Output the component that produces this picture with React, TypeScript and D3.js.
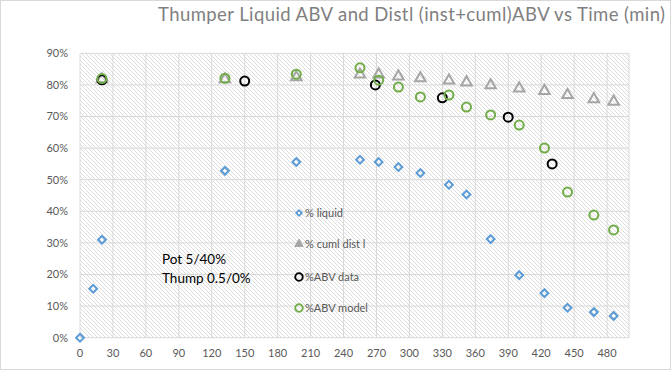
import { scaleLinear, range, symbol, symbolSquare, symbolTriangle } from 'd3';

const title = 'Thumper Liquid ABV and Distl (inst+cuml)ABV vs Time (min)';

const timeLiquid = [0, 12, 20, 132, 197, 255, 272, 290, 310, 336, 352, 374, 400, 423, 444, 468, 486];
const pctLiquid = [0, 15.5, 31, 52.8, 55.6, 56.3, 55.6, 54.0, 52.1, 48.4, 45.3, 31.2, 19.8, 14.1, 9.5, 8.1, 6.9];

const timeCuml = [20, 132, 197, 255, 272, 290, 310, 336, 352, 374, 400, 423, 444, 468, 486];
const pctCuml = [81.8, 81.8, 82.4, 83.3, 83.3, 82.7, 82.1, 81.4, 80.8, 79.9, 78.9, 78.1, 76.8, 75.5, 74.7];

const timeData = [20, 150, 269, 330, 390, 430];
const pctData = [81.6, 81.2, 80.0, 75.9, 69.8, 55.0];

const timeModel = [20, 132, 197, 255, 272, 290, 310, 336, 352, 374, 400, 423, 444, 468, 486];
const pctModel = [82.0, 82.1, 83.4, 85.4, 81.5, 79.3, 76.2, 76.8, 73.0, 70.5, 67.3, 60.0, 46.1, 38.8, 34.1];

const xTicks = range(0, 481, 30);
const yTicks = range(0, 91, 10);

const legendItems = ['% liquid', '% cuml dist l', '%ABV data', '%ABV model'];
const note = ['Pot 5/40%', 'Thump 0.5/0%'];

const W = 672;
const H = 371;
const font = 'Lato, "Open Sans", sans-serif';

export default function App() {
  const x = scaleLinear().domain([0, 500]).range([80, 629]);
  const y = scaleLinear().domain([0, 90]).range([337.7, 53.3]);
  // square rotated 45deg gives Excel's diamond marker
  const diamond = symbol().type(symbolSquare).size(30)() ?? '';
  const diamondSmall = symbol().type(symbolSquare).size(16)() ?? '';
  const tri = symbol().type(symbolTriangle).size(48)() ?? '';
  const triSmall = symbol().type(symbolTriangle).size(30)() ?? '';
  const blue = '#5b9bd5';
  const grey = '#a5a5a5';
  const green = '#70ad47';

  const legendY = [213, 244, 277, 308];

  return (
    <div style={{ position: 'absolute', left: 0, top: 0 }}>
      <svg width={W} height={H} style={{ display: 'block', fontFamily: font }}>
        <defs>
          <pattern id="hatch" width={4} height={4} patternUnits="userSpaceOnUse">
            <path d="M-1,-1 L5,5 M-1,3 L1,5 M3,-1 L5,1" stroke="#d4d4d4" strokeWidth={0.8} />
          </pattern>
        </defs>
        <rect x={0.5} y={0.5} width={W - 2} height={H - 2} fill="#fff" stroke="#d9d9d9" />
        <text x={158} y={21} fill="#7f7f7f" style={{ fontSize: 18.5 }} textLength={507}>
          {title}
        </text>

        <rect x={x(0)} y={y(90)} width={x(500) - x(0)} height={y(0) - y(90)} fill="url(#hatch)" />
        {yTicks.map((t) => (
          <g key={t}>
            <line x1={x(0)} x2={x(500)} y1={y(t)} y2={y(t)} stroke="#d9d9d9" strokeWidth={1} />
            <text x={68} y={y(t)} dy="0.35em" textAnchor="end" fill="#595959" style={{ fontSize: 11 }}>
              {t}%
            </text>
          </g>
        ))}
        {[...xTicks, 500].map((t) => (
          <line key={t} x1={x(t)} x2={x(t)} y1={y(0)} y2={y(90)} stroke="#d9d9d9" strokeWidth={1} />
        ))}
        {xTicks.map((t) => (
          <text key={t} x={x(t)} y={357} textAnchor="middle" fill="#595959" style={{ fontSize: 11 }}>
            {t}
          </text>
        ))}

        {note.map((s, i) => (
          <text key={s} x={162} y={264 + i * 18.5} fill="#000" style={{ fontSize: 13.5 }}>
            {s}
          </text>
        ))}

        {timeLiquid.map((t, i) => (
          <path key={i} d={diamond} transform={`translate(${x(t)},${y(pctLiquid[i])}) rotate(45)`} fill="none" stroke={blue} strokeWidth={2} />
        ))}
        {timeCuml.map((t, i) => (
          <path key={i} d={tri} transform={`translate(${x(t)},${y(pctCuml[i])})`} fill="none" stroke={grey} strokeWidth={2} />
        ))}
        {timeData.map((t, i) => (
          <circle key={i} cx={x(t)} cy={y(pctData[i])} r={4.5} fill="none" stroke="#000" strokeWidth={2} />
        ))}
        {timeModel.map((t, i) => (
          <circle key={i} cx={x(t)} cy={y(pctModel[i])} r={4.5} fill="none" stroke={green} strokeWidth={2} />
        ))}

        {legendItems.map((s, i) => (
          <g key={s} transform={`translate(299,${legendY[i]})`}>
            {i === 0 && <path d={diamondSmall} transform="rotate(45)" fill="none" stroke={blue} strokeWidth={1.8} />}
            {i === 1 && <path d={triSmall} fill={grey} stroke={grey} strokeWidth={1} />}
            {i === 2 && <circle r={3.8} fill="none" stroke="#000" strokeWidth={1.8} />}
            {i === 3 && <circle r={3.8} fill="none" stroke={green} strokeWidth={1.8} />}
            <text x={6} dy="0.35em" fill="#595959" style={{ fontSize: 11 }}>
              {s}
            </text>
          </g>
        ))}
      </svg>
    </div>
  );
}
